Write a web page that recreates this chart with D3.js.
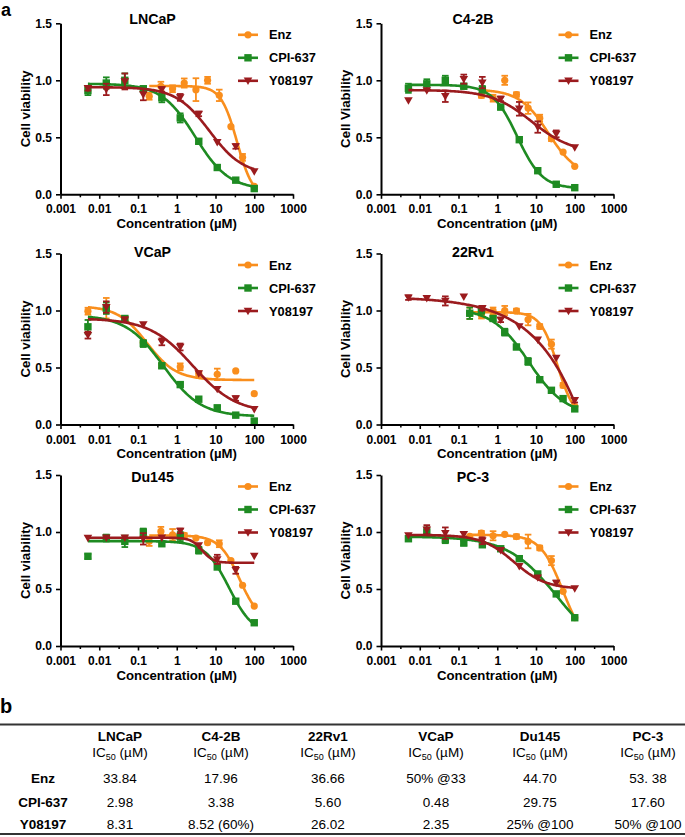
<!DOCTYPE html>
<html><head><meta charset="utf-8">
<script src="https://cdn.jsdelivr.net/npm/d3@7"></script>
<style>
body{margin:0;background:#fff}
svg{display:block}
text{font-family:"Liberation Sans",Arial,Helvetica,sans-serif;fill:#000}
</style>
</head><body>
<svg id="c" width="685" height="837"></svg>
<script>
// ---------------- data ----------------
const cellLines = ["LNCaP","C4-2B","VCaP","22Rv1","Du145","PC-3"];
const yAxisTitles = ["Cell viability","Cell Viability","Cell viability","Cell Viability","Cell viability","Cell Viability"];
const drugs = ["Enz","CPI-637","Y08197"];
const drugColors = ["#F98E1D","#1E8B22","#9B1B1E"];
const xTickValues = [0.001,0.01,0.1,1,10,100,1000];
const xTickLabels = ["0.001","0.01","0.1","1","10","100","1000"];
const xMinorTicks = [0.00316,0.0316,0.316,3.16,31.6,316];
const yTickValues = [0,0.5,1.0,1.5];
const yTickLabels = ["0.0","0.5","1.0","1.5"];

// concentrations (µM)
const conc2 = [0.195,0.39,0.78,1.56,3.125,6.25,12.5,25,50,100];
const conc2b = [0.39,0.78,1.56,3.125,6.25,12.5,25,50,100];
const conc3 = [0.0051,0.0152,0.0457,0.137,0.412,1.23,3.7,11.1,33.3,100];

// LNCaP
const lncapEnz = [0.86,0.947,0.926,0.976,0.918,1.0,0.868,0.594,0.324,0.07];
const lncapEnzErr = [0.03,0.04,0.03,0.04,0.10,0.03,0.05,0.01,0.03,0.01];
const lncapCpi = [0.91,0.976,1.0,0.926,0.847,0.67,0.465,0.235,0.124,0.05];
const lncapCpiErr = [0.04,0.05,0.06,0.01,0.04,0.04,0.02,0.01,0.01,0.01];
const lncapY = [0.93,0.92,0.99,0.875,0.92,0.85,0.705,0.456,0.42,0.20];
const lncapYErr = [0.02,0.05,0.07,0.05,0.02,0.03,0.02,0.01,0.02,0.01];
const fitLNCaP = [[0.95,-0.03,36,2.1],[0.97,0.04,3.0,1.0],[0.94,0.17,7,1.0]];

// C4-2B
const c42bEnz = [0.867,0.843,1.0,0.875,0.756,0.668,0.487,0.37,0.245];
const c42bEnzErr = [0.02,0.03,0.04,0.02,0.05,0.03,0.02,0.01,0.01];
const c42bCpi = [0.93,0.969,1.0,0.948,0.92,0.765,0.479,0.207,0.088,0.058];
const c42bCpiErr = [0.04,0.04,0.04,0.02,0.03,0.02,0.01,0.01,0.01,0.01];
const c42bY = [0.823,0.91,0.86,1.01,0.98,0.837,0.75,0.59,0.53,0.41];
const c42bYErr = [0,0.01,0.05,0.04,0.05,0.02,0.06,0.05,0.03,0.01];
const fitC42B = [[0.92,0.15,21,1.16],[0.96,0.05,3.3,1.35],[0.915,0.36,7.8,0.83]];

// VCaP
const vcapEnz = [0.994,1.02,0.93,0.72,0.52,0.506,0.447,0.44,0.47,0.27];
const vcapEnzErr = [0.03,0.09,0.02,0.02,0.02,0.03,0.02,0.05,0.01,0.01];
const vcapCpi = [0.857,1.02,0.93,0.71,0.515,0.35,0.222,0.146,0.082,0.03];
const vcapCpiErr = [0.06,0.05,0.02,0.03,0.02,0.01,0.01,0.02,0.01,0.02];
const vcapY = [0.784,1.03,0.92,0.877,0.725,0.68,0.447,0.31,0.228,0.134];
const vcapYErr = [0.03,0.05,0.02,0.01,0.03,0.03,0.01,0.01,0.02,0.01];
const fitVCaP = [[1.04,0.39,0.17,1.15],[0.96,0.07,0.45,0.9],[0.93,0.1,2.6,0.78]];

// 22Rv1
const rv1Enz = [0.976,0.96,0.996,1.0,0.996,0.92,0.86,0.705,0.344,0.16];
const rv1EnzErr = [0.05,0.03,0.03,0.04,0.02,0.05,0.02,0.04,0.02,0.01];
const rv1Cpi = [0.976,1.0,0.93,0.81,0.68,0.553,0.393,0.3,0.227,0.137];
const rv1CpiErr = [0.05,0.03,0.02,0.03,0.02,0.03,0.01,0.01,0.01,0.01];
const rv1Y = [1.113,1.107,1.084,1.12,1.02,0.918,0.86,0.743,0.583,0.213];
const rv1YErr = [0.02,0.01,0.04,0.01,0.02,0.02,0.01,0.01,0.01,0.02];
const fit22Rv1 = [[0.985,0.05,36,2.0],[1.02,0.08,6.5,0.92],[1.12,-10,29900,0.42]];

// Du145
const du145Enz = [0.918,1.005,0.976,0.97,0.947,0.906,0.897,0.75,0.533,0.35];
const du145EnzErr = [0.04,0.04,0.05,0.02,0.01,0.01,0.03,0.01,0.01,0.01];
const du145Cpi = [0.787,0.947,0.918,1.0,0.897,0.96,0.84,0.693,0.393,0.204];
const du145CpiErr = [0.02,0.03,0.05,0.03,0.01,0.04,0.03,0.01,0.01,0.01];
const du145Y = [0.947,0.95,0.95,0.94,0.95,1.01,0.883,0.76,0.664,0.79];
const du145YErr = [0.01,0.01,0.01,0.05,0.01,0.02,0.01,0.04,0.03,0.01];
const fitDu145 = [[0.97,0.2,42,1.65],[0.92,0.1,22.5,1.4],[0.95,0.73,4.5,3]];

// PC-3
const pc3Enz = [0.961,0.99,0.967,0.98,0.96,0.917,0.86,0.749,0.48,0.248];
const pc3EnzErr = [0.01,0.02,0.04,0.01,0.02,0.06,0.02,0.04,0.01,0.01];
const pc3Cpi = [0.941,1.0,0.932,0.903,0.888,0.853,0.766,0.632,0.457,0.248];
const pc3CpiErr = [0.01,0.04,0.03,0.02,0.02,0.01,0.02,0.01,0.01,0.01];
const pc3Y = [0.97,1.02,0.99,0.98,0.923,0.84,0.7,0.6,0.553,0.504];
const pc3YErr = [0.01,0.04,0.05,0.02,0.03,0.01,0.01,0.01,0.02,0.01];
const fitPC3 = [[0.975,0,49,1.5],[0.96,-0.1,36,0.68],[0.975,0.5,2.7,1.05]];

// IC50 table
const tableCols = ["LNCaP","C4-2B","22Rv1","VCaP","Du145","PC-3"];
const tableRows = ["Enz","CPI-637","Y08197"];
const ic50Enz = ["33.84","17.96","36.66","50% @33","44.70","53. 38"];
const ic50Cpi = ["2.98","3.38","5.60","0.48","29.75","17.60"];
const ic50Y = ["8.31","8.52 (60%)","26.02","2.35","25% @100","50% @100"];

// ---------------- assemble ----------------
const panels = [
  {conc:[conc2,conc3,conc3], mean:[lncapEnz,lncapCpi,lncapY], err:[lncapEnzErr,lncapCpiErr,lncapYErr], fit:fitLNCaP},
  {conc:[conc2b,conc3,conc3], mean:[c42bEnz,c42bCpi,c42bY], err:[c42bEnzErr,c42bCpiErr,c42bYErr], fit:fitC42B},
  {conc:[conc3,conc3,conc3], mean:[vcapEnz,vcapCpi,vcapY], err:[vcapEnzErr,vcapCpiErr,vcapYErr], fit:fitVCaP},
  {conc:[conc2,conc2,conc3], mean:[rv1Enz,rv1Cpi,rv1Y], err:[rv1EnzErr,rv1CpiErr,rv1YErr], fit:fit22Rv1},
  {conc:[conc2,conc3,conc3], mean:[du145Enz,du145Cpi,du145Y], err:[du145EnzErr,du145CpiErr,du145YErr], fit:fitDu145},
  {conc:[conc2,conc3,conc3], mean:[pc3Enz,pc3Cpi,pc3Y], err:[pc3EnzErr,pc3CpiErr,pc3YErr], fit:fitPC3}
];

const svg = d3.select("#c");
const W = 232.5, H = 171;
const colX = [60.5, 381];
const rowTop = [23.3, 253.5, 475];
const titleBase = [24, 257, 481.5];

function logistic(p, x){ const [t,b,ec,h]=p; return b + (t-b)/(1+Math.pow(x/ec,h)); }

function marker(g, k, cx, cy, color){
  if(k===0){
    g.append("circle").attr("cx",cx).attr("cy",cy).attr("r",3.6).attr("fill",color);
  } else if(k===1){
    g.append("rect").attr("x",cx-3.7).attr("y",cy-3.7).attr("width",7.4).attr("height",7.4).attr("fill",color);
  } else {
    g.append("path").attr("d",`M${cx-4.3},${cy-3.2}L${cx+4.3},${cy-3.2}L${cx},${cy+4.2}Z`).attr("fill",color);
  }
}

svg.append("text").attr("x",1).attr("y",16.3).attr("font-size",18).attr("font-weight","bold").text("a");

panels.forEach((p,i)=>{
  const col=i%2, row=Math.floor(i/2);
  const g = svg.append("g").attr("transform",`translate(${colX[col]},${rowTop[row]})`);
  const x = d3.scaleLog().domain([0.001,1000]).range([0,W]);
  const y = d3.scaleLinear().domain([0,1.5]).range([H,0]);

  // data series (Enz first, then CPI-637, then Y08197 on top)
  [0,1,2].forEach(k=>{
    const color = drugColors[k];
    const cs = p.conc[k];
    const lo = d3.min(cs), hi = d3.max(cs);
    const n = 150;
    const pts = d3.range(n+1).map(j=>{
      const xv = Math.pow(10, Math.log10(lo) + (Math.log10(hi)-Math.log10(lo))*j/n);
      return [xv, logistic(p.fit[k], xv)];
    });
    g.append("path").datum(pts)
      .attr("d", d3.line().x(d=>x(d[0])).y(d=>y(d[1])))
      .attr("fill","none").attr("stroke",color).attr("stroke-width",2.6);
    const sg = g.append("g");
    cs.forEach((c,j)=>{
      const m = p.mean[k][j], e = p.err[k][j];
      const cx = x(c), cy = y(m);
      if(e>0.012){
        sg.append("line").attr("x1",cx).attr("x2",cx).attr("y1",y(m+e)).attr("y2",y(m-e))
          .attr("stroke",color).attr("stroke-width",1.8);
        [m+e,m-e].forEach(v=>sg.append("line").attr("x1",cx-3.3).attr("x2",cx+3.3)
          .attr("y1",y(v)).attr("y2",y(v)).attr("stroke",color).attr("stroke-width",1.8));
      }
      marker(sg,k,cx,cy,color);
    });
  });

  // axes
  const xa = g.append("g").attr("transform",`translate(0,${H})`)
    .call(d3.axisBottom(x).tickValues(xTickValues).tickFormat((d,j)=>xTickLabels[j])
      .tickSize(4.5).tickSizeOuter(0).tickPadding(6));
  g.append("g").attr("transform",`translate(0,${H})`)
    .call(d3.axisBottom(x).tickValues(xMinorTicks).tickFormat("").tickSize(3).tickSizeOuter(0))
    .call(s=>s.select(".domain").remove())
    .selectAll("line").attr("stroke-width",1.5);
  const ya = g.append("g")
    .call(d3.axisLeft(y).tickValues(yTickValues).tickFormat((d,j)=>yTickLabels[j])
      .tickSize(4.5).tickSizeOuter(0).tickPadding(4));
  [xa,ya].forEach(a=>{
    a.select(".domain").attr("stroke-width",2).attr("stroke","#000");
    a.selectAll(".tick line").attr("stroke-width",1.6);
    a.selectAll(".tick text").attr("font-size",12).attr("font-weight","bold")
      .attr("font-family","'Liberation Sans',Arial,sans-serif").attr("fill","#000");
  });

  // labels
  g.append("text").attr("x",W/2).attr("y",H+33.5).attr("text-anchor","middle")
    .attr("font-size",13.2).attr("font-weight","bold").text("Concentration (µM)");
  g.append("text").attr("transform",`translate(-31,${H/2}) rotate(-90)`).attr("text-anchor","middle")
    .attr("font-size",13.2).attr("font-weight","bold").text(yAxisTitles[i]);
  svg.append("text").attr("x",colX[col]+92).attr("y",titleBase[row]).attr("text-anchor","middle")
    .attr("font-size",14.2).attr("font-weight","bold").text(cellLines[i]);

  // legend
  drugs.forEach((d,k)=>{
    const ly = 11.5 + k*23;
    const lg = g.append("g");
    lg.append("line").attr("x1",177.5).attr("x2",197.5).attr("y1",ly).attr("y2",ly)
      .attr("stroke",drugColors[k]).attr("stroke-width",2.6);
    marker(lg,k,187.5,ly,drugColors[k]);
    lg.append("text").attr("x",208.5).attr("y",ly+4.6).attr("font-size",12.8).attr("font-weight","bold").text(d);
  });
});

// ---------------- table b ----------------
svg.append("text").attr("x",0).attr("y",713).attr("font-size",20).attr("font-weight","bold").text("b");
const tcx = [120,221,328,436,540,648];
const rowLabelX = 43;
svg.append("line").attr("x1",0).attr("x2",685).attr("y1",724.5).attr("y2",724.5).attr("stroke","#333").attr("stroke-width",2);
svg.append("line").attr("x1",0).attr("x2",685).attr("y1",834).attr("y2",834).attr("stroke","#333").attr("stroke-width",2);
tableCols.forEach((c,j)=>{
  svg.append("text").attr("x",tcx[j]).attr("y",741).attr("text-anchor","middle")
    .attr("font-size",13.5).attr("font-weight","bold").text(c);
  const t = svg.append("text").attr("x",tcx[j]).attr("y",756.5).attr("text-anchor","middle").attr("font-size",13.5);
  t.append("tspan").text("IC");
  t.append("tspan").attr("font-size",9).attr("dy",3).text("50");
  t.append("tspan").attr("dy",-3).text(" (µM)");
});
const tableVals = [ic50Enz, ic50Cpi, ic50Y];
const rowBase = [783, 806.5, 829];
tableRows.forEach((r,i)=>{
  svg.append("text").attr("x",rowLabelX).attr("y",rowBase[i]).attr("text-anchor","middle")
    .attr("font-size",13.5).attr("font-weight","bold").text(r);
  tableVals[i].forEach((v,j)=>{
    svg.append("text").attr("x",tcx[j]).attr("y",rowBase[i]).attr("text-anchor","middle")
      .attr("font-size",13.5).text(v);
  });
});
</script>
</body></html>
